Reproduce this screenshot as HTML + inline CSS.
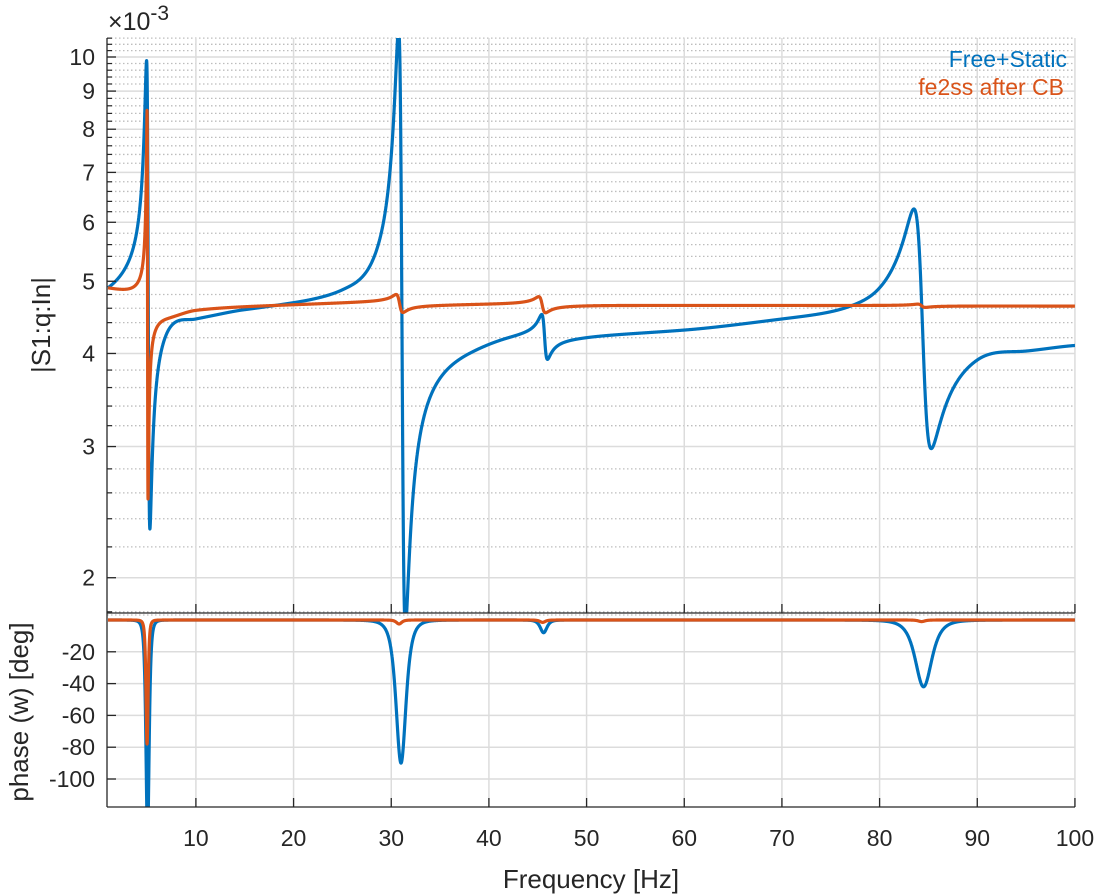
<!DOCTYPE html>
<html><head><meta charset="utf-8">
<style>
html,body{margin:0;padding:0;background:#fff;}
svg{display:block;font-family:"Liberation Sans",Arial,sans-serif;}
</style></head>
<body>
<svg id="s" width="1098" height="896" viewBox="0 0 1098 896" xmlns="http://www.w3.org/2000/svg">
<defs>
<clipPath id="c1"><rect x="107" y="38" width="968" height="575"/></clipPath>
<clipPath id="c2"><rect x="107" y="613" width="968" height="194"/></clipPath>
</defs>
<g id="grid"></g>
<g id="curves"></g>
<g id="axes"></g>
<g fill="#262626" font-size="22">
<text x="108" y="30" font-size="25">×10<tspan dy="-10" font-size="21">-3</tspan></text>
<text x="1067" y="67" text-anchor="end" fill="#0072BD" font-size="23">Free+Static</text>
<text x="1064" y="95" text-anchor="end" fill="#D95319" font-size="23">fe2ss after CB</text>
<text x="591" y="888" text-anchor="middle" font-size="26">Frequency [Hz]</text>
<text transform="translate(50,325) rotate(-90)" text-anchor="middle" font-size="26">|S1:q:In|</text>
<text transform="translate(28,712) rotate(-90)" text-anchor="middle" font-size="26">phase (w) [deg]</text>
</g>
</svg>
<script>
const NS="http://www.w3.org/2000/svg";
function X(f){return 108+(f-1)*9.767;}
function YM(v){return 57-745*Math.log10(v/10);}
function YP(d){return 620-1.59*d;}
function el(p,tag,a,txt){const e=document.createElementNS(NS,tag);for(const k in a)e.setAttribute(k,a[k]);if(txt!==undefined)e.textContent=txt;p.appendChild(e);return e;}
const G=document.getElementById('grid'),A=document.getElementById('axes'),C=document.getElementById('curves');
for(let v=1.8;v<=10.61;v+=0.2){const r=Math.round(v*10)/10;if(Math.abs(r-Math.round(r))<1e-6)continue;const y=YM(r);if(y<38||y>613)continue;
 el(G,'line',{x1:107,x2:1075,y1:y,y2:y,stroke:'#bdbdbd','stroke-width':1.3,'stroke-dasharray':'1.5,2.5'});}
for(let v=2;v<=10;v++){const y=YM(v);el(G,'line',{x1:107,x2:1075,y1:y,y2:y,stroke:'#dcdcdc','stroke-width':1.5});}
for(let f=10;f<=100;f+=10){el(G,'line',{x1:X(f),x2:X(f),y1:38,y2:807,stroke:'#dcdcdc','stroke-width':1.5});}
for(let d=-100;d<=-20;d+=20){el(G,'line',{x1:107,x2:1075,y1:YP(d),y2:YP(d),stroke:'#dcdcdc','stroke-width':1.5});}
el(G,'line',{x1:107,x2:1075,y1:615,y2:615,stroke:'#bdbdbd','stroke-width':1.3,'stroke-dasharray':'1.5,2.5'});
const ax='#262626';
el(A,'line',{x1:107,x2:107,y1:38,y2:613,stroke:ax,'stroke-width':1.3});
el(A,'line',{x1:107,x2:1075,y1:613,y2:613,stroke:ax,'stroke-width':1.3});
el(A,'line',{x1:107,x2:107,y1:613,y2:807,stroke:ax,'stroke-width':1.3});
el(A,'line',{x1:107,x2:1075,y1:807,y2:807,stroke:ax,'stroke-width':1.3});
for(let v=2;v<=10;v++){const y=YM(v);el(A,'line',{x1:107,x2:116,y1:y,y2:y,stroke:ax,'stroke-width':1.3});el(A,'text',{x:95,y:y+8,'text-anchor':'end','font-size':23,fill:ax},String(v));}
for(let v=1.8;v<=10.61;v+=0.2){const r=Math.round(v*10)/10;if(Math.abs(r-Math.round(r))<1e-6)continue;const y=YM(r);if(y<38||y>613)continue;el(A,'line',{x1:107,x2:112,y1:y,y2:y,stroke:ax,'stroke-width':1.2});}
for(let d=-100;d<=-20;d+=20){const y=YP(d);el(A,'line',{x1:107,x2:116,y1:y,y2:y,stroke:ax,'stroke-width':1.3});el(A,'text',{x:95,y:y+8,'text-anchor':'end','font-size':23,fill:ax},String(d));}
for(let f=10;f<=100;f+=10){const x=X(f);el(A,'line',{x1:x,x2:x,y1:613,y2:604,stroke:ax,'stroke-width':1.3});el(A,'line',{x1:x,x2:x,y1:807,y2:798,stroke:ax,'stroke-width':1.3});
 el(A,'text',{x:x,y:846,'text-anchor':'middle','font-size':23,fill:ax},String(f));}
function res(f,R){const x=(f-R.f0)/R.w;const D=-x/(x*x+1);const xp=(f-R.pf)/R.pw;const L=1/Math.pow(1+xp*xp,2);return [Math.exp(R.a*D),-R.pc*L];}
function model(f,rs){let m=1,ph=0;for(const R of rs){const r=res(f,R);m*=r[0];ph+=r[1];}return [m,ph];}
function build(rs,anch){const B=anch.map(a=>[a[0],a[1]/model(a[0],rs)[0]]);const n=B.length;
 function interp(f){if(f<=B[0][0])return B[0][1];if(f>=B[n-1][0])return B[n-1][1];
  let i=0;while(i<n-2&&f>B[i+1][0])i++;
  const p0=B[Math.max(0,i-1)],p1=B[i],p2=B[i+1],p3=B[Math.min(n-1,i+2)];
  const h=p2[0]-p1[0],t=(f-p1[0])/h;
  const m1=(p2[1]-p0[1])/(p2[0]-p0[0])*h, m2=(p3[1]-p1[1])/(p3[0]-p1[0])*h;
  const t2=t*t,t3=t2*t;
  return (2*t3-3*t2+1)*p1[1]+(t3-2*t2+t)*m1+(-2*t3+3*t2)*p2[1]+(t3-t2)*m2;}
 return function(f){const r=model(f,rs);return [interp(f)*r[0],r[1]];};}
const blue=build([
 {f0:5.12,w:0.17,a:1.45,pc:135,pf:5.05,pw:0.3},
 {f0:31.1,w:0.35,a:1.85,pc:90,pf:31.0,pw:0.93},
 {f0:45.7,w:0.3,a:0.14,pc:8,pf:45.6,pw:0.62},
 {f0:84.4,w:0.9,a:0.75,pc:42,pf:84.5,pw:1.55}],
 [[1,4.9],[7,4.25],[10,4.45],[15,4.58],[20,4.68],[25,4.87],[28,5.3],[34,3.5],[38,4.0],[42,4.2],[50,4.2],[60,4.3],[70,4.45],[77,4.63],[80,4.9],[90,3.92],[95,4.03],[100,4.1]]);
const orange=build([
 {f0:5.05,w:0.05,a:1.2,pc:78,pf:5.0,pw:0.2},
 {f0:30.85,w:0.35,a:0.055,pc:2.5,pf:30.8,pw:0.5},
 {f0:45.45,w:0.35,a:0.05,pc:1.5,pf:45.5,pw:0.5},
 {f0:84.3,w:0.4,a:0.01,pc:1,pf:84.3,pw:0.6}],
 [[1,4.9],[7,4.45],[10,4.57],[20,4.65],[29,4.72],[33,4.62],[40,4.66],[48,4.62],[60,4.64],[100,4.63]]);
function draw(fn,col){let dm='',dp='';for(let i=0;i<=19800;i++){const f=1+i*0.005;const r=fn(f);const x=X(f).toFixed(2);
 let ym=YM(r[0]);ym=Math.max(-50,Math.min(700,ym));let yp=YP(r[1]);yp=Math.max(500,Math.min(900,yp));
 dm+=(i?'L':'M')+x+','+ym.toFixed(2);dp+=(i?'L':'M')+x+','+yp.toFixed(2);}
 el(C,'path',{d:dm,fill:'none',stroke:col,'stroke-width':3.2,'stroke-linejoin':'round','clip-path':'url(#c1)'});
 el(C,'path',{d:dp,fill:'none',stroke:col,'stroke-width':3.2,'stroke-linejoin':'round','clip-path':'url(#c2)'});}
draw(blue,'#0072BD');draw(orange,'#D95319');
</script>
</body></html>
